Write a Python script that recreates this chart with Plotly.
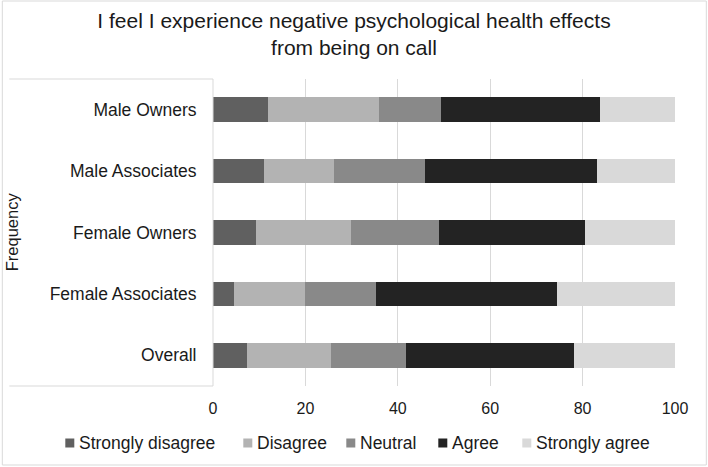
import plotly.graph_objects as go

categories = ["Male Owners", "Male Associates", "Female Owners", "Female Associates", "Overall"]
strongly_disagree = [12.0, 11.1, 9.2, 4.6, 7.3]
disagree = [23.9, 15.0, 20.7, 15.4, 18.2]
neutral = [13.4, 19.7, 19.0, 15.2, 16.3]
agree = [34.5, 37.4, 31.7, 39.3, 36.3]
strongly_agree = [16.2, 16.8, 19.4, 25.5, 21.9]
x_ticks = [0, 20, 40, 60, 80, 100]

series_names = ["Strongly disagree", "Disagree", "Neutral", "Agree", "Strongly agree"]
series_values = [strongly_disagree, disagree, neutral, agree, strongly_agree]
series_colors = ["#606060", "#b3b3b3", "#898989", "#232323", "#d9d9d9"]

# legend layout (pixels, left edge of each swatch)
legend_swatch_x = [65, 243, 346, 438, 522]

W, H = 708, 467
L, R, T, B = 212.7, 33.3, 79, 81
pw = W - L - R
ph = H - T - B


def px_x(p):
    return (p - L) / pw


def px_y(p):
    return (H - B - p) / ph


fig = go.Figure()
for name, vals, col in zip(series_names, series_values, series_colors):
    fig.add_trace(go.Bar(
        y=categories, x=vals, name=name, orientation="h",
        marker=dict(color=col, line=dict(width=0)),
    ))

font = dict(family="Liberation Sans, Arial, sans-serif", color="#1a1a1a")
fig.update_layout(
    width=W, height=H,
    barmode="stack", bargap=0.6,
    plot_bgcolor="white", paper_bgcolor="white",
    margin=dict(l=L, r=R, t=T, b=B, autoexpand=False),
    font=dict(**font, size=16),
    title=dict(
        text="I feel I experience negative psychological health effects<br>from being on call",
        x=0.5, xanchor="center", xref="container",
        y=1 - 28 / H, yanchor="middle", yref="container",
        font=dict(**font, size=21),
    ),
    xaxis=dict(
        range=[0, 100], tickvals=x_ticks, showgrid=True, gridcolor="#d9d9d9",
        gridwidth=1, zeroline=False, showline=False, ticks="outside",
        ticklen=8, tickcolor="rgba(0,0,0,0)",
        tickfont=dict(**font, size=16), fixedrange=True,
    ),
    yaxis=dict(
        categoryorder="array", categoryarray=categories, autorange="reversed",
        showgrid=False, zeroline=False, showline=False, ticks="outside",
        ticklen=12, tickcolor="rgba(0,0,0,0)",
        tickfont=dict(**font, size=17.5), fixedrange=True,
    ),
    showlegend=False,
)

fig.add_annotation(
    text="Frequency", xref="paper", yref="paper",
    x=px_x(12), y=px_y(232), xanchor="center", yanchor="middle",
    textangle=-90, showarrow=False, font=dict(**font, size=16.5),
)

# legend drawn as swatches + labels
for name, col, sx in zip(series_names, series_colors, legend_swatch_x):
    fig.add_shape(type="rect", xref="paper", yref="paper",
                  x0=px_x(sx), x1=px_x(sx + 9), y0=px_y(447.5), y1=px_y(438.5),
                  fillcolor=col, line=dict(width=0))
    fig.add_annotation(text=name, xref="paper", yref="paper",
                       x=px_x(sx + 12), y=px_y(443), xanchor="left", yanchor="middle",
                       showarrow=False, font=dict(**font, size=17.5))

x_left = px_x(9)
line = dict(color="#d9d9d9", width=1)
fig.add_shape(type="line", xref="paper", yref="paper", x0=x_left, x1=0, y0=1, y1=1, line=line)
fig.add_shape(type="line", xref="paper", yref="paper", x0=x_left, x1=0, y0=0, y1=0, line=line)
fig.add_shape(type="line", xref="paper", yref="paper", x0=0, x1=0, y0=0, y1=1, line=line)
# outer border
fig.add_shape(type="rect", xref="paper", yref="paper",
              x0=px_x(2), x1=px_x(706), y0=px_y(465), y1=px_y(1),
              line=dict(color="#d9d9d9", width=1))

fig.write_html("out.html", config={"displayModeBar": False},
               post_script="document.body.style.margin='0';document.body.style.overflow='hidden';")
